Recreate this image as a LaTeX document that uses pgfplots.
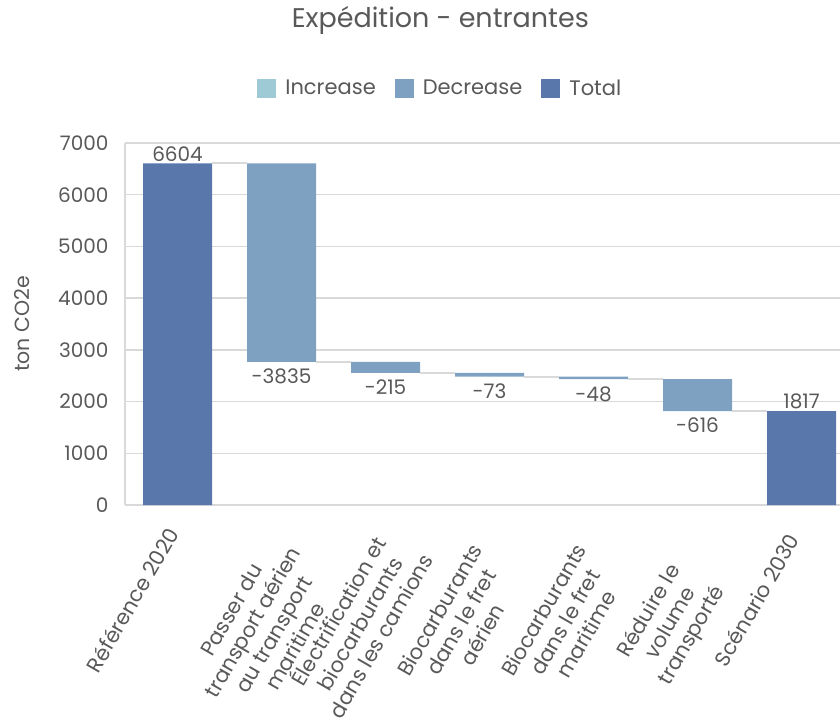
\documentclass[border=0pt]{standalone}
\usepackage{fontspec}
\setmainfont{Poppins}
\usepackage{pgfplots}
\pgfplotsset{compat=1.18}

\definecolor{txt}{HTML}{595959}
\definecolor{gridc}{HTML}{D9D9D9}
\definecolor{incC}{HTML}{9ECAD6}
\definecolor{decC}{HTML}{7EA1C2}
\definecolor{totC}{HTML}{5A77AC}

% both axes share the same frame
\pgfplotsset{common/.style={
    scale only axis,
    width=715pt, height=362pt,
    xmin=-0.505, xmax=6.37,
    ymin=0, ymax=7000,
  }}

\begin{document}
\begin{tikzpicture}
  \begin{axis}[
      common,
      name=ax,
      ybar stacked,
      bar width=69pt,
      axis x line*=bottom,
      axis y line*=left,
      axis line style={draw=gridc, line width=1.5pt, -},
      ymajorgrids,
      grid style={draw=gridc, line width=1.5pt},
      major tick length=0pt,
      ytick={0,1000,...,7000},
      /pgf/number format/assume math mode=true,
      /pgf/number format/1000 sep={},
      yticklabel style={font=\fontsize{20}{24}\selectfont, text=txt, xshift=-13pt},
      xtick={1,...,5},
      xticklabels={
        {Passer du\\transport aérien\\au transport\\maritime},
        {Électrification et\\biocarburants\\dans les camions},
        {Biocarburants\\dans le fret\\aérien},
        {Biocarburants\\dans le fret\\maritime},
        {Réduire le\\volume\\transporté}
      },
      extra x ticks={0,6},
      extra x tick labels={{Référence 2020},{Scénario 2030}},
      extra x tick style={xticklabel style={xshift=11pt, yshift=1pt}},
      xticklabel style={
        xshift=-60pt, yshift=-99pt,
        rotate=60, anchor=north, align=center,
        font=\fontsize{21}{24.5}\selectfont, text=txt,
      },
      ylabel={ton CO2e},
      ylabel style={at={(axis description cs:0,0.5)}, anchor=center,
        yshift=103pt, font=\fontsize{20.5}{24}\selectfont, text=txt},
      title={Expédition - entrantes},
      title style={at={(axis description cs:0.441,1)}, anchor=base,
        yshift=110pt, font=\fontsize{27}{32}\selectfont, text=txt},
      legend style={
        at={(axis description cs:0.441,1)}, anchor=center, yshift=55pt,
        draw=none, font=\fontsize{21}{25}\selectfont, text=txt,
        /tikz/every odd column/.append style={column sep=7pt},
        /tikz/every even column/.append style={column sep=17pt},
      },
      legend columns=3,
      legend image code/.code={\fill[#1] (0pt,-9.5pt) rectangle (19pt,9.5pt);},
    ]
    % invisible base of the floating bars
    \addplot[fill=none, draw=none, forget plot] coordinates {
      (0,0) (1,2769) (2,2554) (3,2481) (4,2433) (5,1817) (6,0)
    };
    \addlegendimage{fill=incC, draw=none}
    \addlegendentry{Increase}
    \addplot[fill=decC, draw=none] coordinates {
      (0,0) (1,3835) (2,215) (3,73) (4,48) (5,616) (6,0)
    };
    \addlegendentry{Decrease}
    \addplot[fill=totC, draw=none] coordinates {
      (0,6604) (1,0) (2,0) (3,0) (4,0) (5,0) (6,1817)
    };
    \addlegendentry{Total}
  \end{axis}

  % connectors and value labels
  \begin{axis}[
      common,
      hide axis,
      clip=false,
    ]
    \addplot[gridc, line width=2pt] coordinates {(0.332,6604) (0.668,6604)};
    \addplot[gridc, line width=2pt] coordinates {(1.332,2769) (1.668,2769)};
    \addplot[gridc, line width=2pt] coordinates {(2.332,2554) (2.668,2554)};
    \addplot[gridc, line width=2pt] coordinates {(3.332,2481) (3.668,2481)};
    \addplot[gridc, line width=2pt] coordinates {(4.332,2433) (4.668,2433)};
    \addplot[gridc, line width=2pt] coordinates {(5.332,1817) (5.668,1817)};

    \addplot[draw=none, mark=none, nodes near coords, point meta=explicit symbolic,
      every node near coord/.append style={anchor=south, inner sep=2pt,
        font=\fontsize{20}{24}\selectfont, text=txt}]
      coordinates {(0,6604)[6604] (6,1817)[1817]};
    \addplot[draw=none, mark=none, nodes near coords, point meta=explicit symbolic,
      every node near coord/.append style={anchor=north, inner sep=7pt,
        font=\fontsize{20}{24}\selectfont, text=txt}]
      coordinates {(1,2769)[-3835] (2,2554)[-215] (3,2481)[-73]
                   (4,2433)[-48] (5,1817)[-616]};
  \end{axis}

  \pgfresetboundingbox
  \path[use as bounding box] (ax.south west) ++(-125pt,-212pt) rectangle ++(840pt,717pt);
\end{tikzpicture}
\end{document}
